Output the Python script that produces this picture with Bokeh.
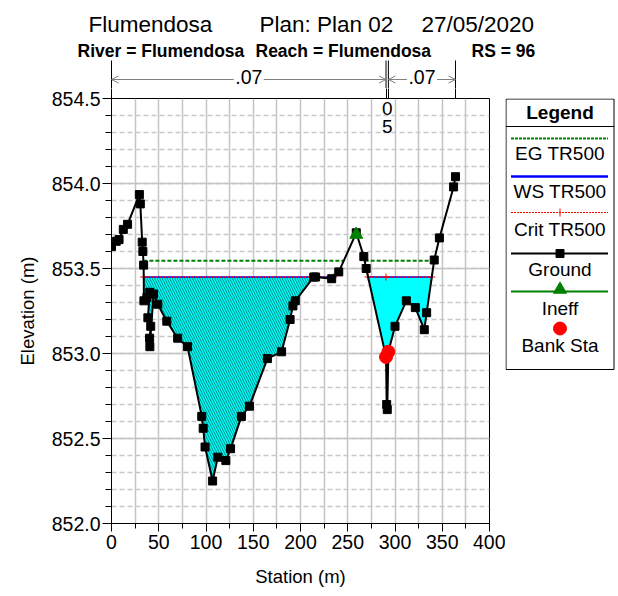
from bokeh.plotting import figure
from bokeh.layouts import column, row
from bokeh.models import (Arrow, OpenHead, SingleIntervalTicker, NumeralTickFormatter, Range1d,
                          LinearAxis, FixedTicker)
from bokeh.core.properties import value
from bokeh.embed import file_html
from bokeh.resources import INLINE

# ---------------- data ----------------
station = [0, 5, 8, 12.5, 17, 29.5, 30.5, 32.5, 33.2, 34.0, 34.3, 37.5, 40.5, 38.5, 41.5, 40.3,
           40.6, 44.5, 49, 58.5, 70, 80.5, 95.5, 97, 99, 107, 112.5, 121, 126, 137.5, 146, 165,
           180, 189, 192, 194.5, 214, 216, 233, 240.5, 259, 267, 269.5, 290.5, 291.2, 291.8,
           293, 300, 312, 321.5, 331, 333.5, 341.5, 347, 362, 364]
elevation = [853.63, 853.66, 853.67, 853.73, 853.76, 853.935, 853.88, 853.655, 853.60, 853.52,
             853.31, 853.33, 853.36, 853.21, 853.16, 853.09, 853.04, 853.35, 853.29, 853.19,
             853.09, 853.04, 852.63, 852.56, 852.45, 852.25, 852.39, 852.37, 852.44, 852.63,
             852.69, 852.97, 853.01, 853.20, 853.28, 853.31, 853.45, 853.45, 853.44, 853.48,
             853.71, 853.57, 853.50, 852.98, 852.70, 852.67, 853.01, 853.16, 853.31, 853.27,
             853.14, 853.24, 853.55, 853.68, 853.98, 854.04]
ws_elev = 853.45      # WS TR500
eg_elev = 853.545     # EG TR500
crit_elev = 853.45    # Crit TR500
ineff_sta = [259.0]
ineff_elev = [853.70]
bank_sta = [290.5, 293.0]
bank_elev = [852.98, 853.01]
n_values = [".07", ".05", ".07"]
legend_names = ["EG TR500", "WS TR500", "Crit TR500", "Ground", "Ineff", "Bank Sta"]
title_parts = ["Flumendosa", "Plan: Plan 02", "27/05/2020"]
subtitle_parts = ["River = Flumendosa", "Reach = Flumendosa", "RS = 96"]

# ---------------- layout constants (pixels) ----------------
W, H = 618, 596
TOP_H = 88                  # height of the title strip
MAIN_W = 505                # width of the main chart canvas
L, R, T, B = 111, 16, 10, 73  # main chart borders
X0, X1 = 0, 400
Y0, Y1 = 852.0, 854.5
FW = MAIN_W - L - R
FH = (H - TOP_H) - T - B
FRAME_TOP = TOP_H + T
FONT = "Liberation Sans"


def px2x(px):
    return X0 + (px - L) * (X1 - X0) / FW


def py2y(py):
    return Y0 + (H - B - py) * (Y1 - Y0) / FH


def wet_polys(sta, elev, level):
    polys, cur = [], None
    for i in range(len(sta)):
        x, y = sta[i], elev[i]
        wet = y <= level
        if i > 0:
            xp, yp = sta[i - 1], elev[i - 1]
            if wet != (yp <= level):
                xc = xp + (x - xp) * (level - yp) / (y - yp)
                if wet:
                    cur = [(xc, level)]
                else:
                    cur.append((xc, level))
                    polys.append(cur)
                    cur = None
        if wet:
            if cur is None:
                cur = []
            cur.append((x, y))
    if cur:
        polys.append(cur)
    return polys


def blank_fig(w, h, xr, yr, top=0, bottom=0):
    f = figure(width=w, height=h, x_range=Range1d(*xr), y_range=Range1d(*yr),
               x_axis_type=None, y_axis_type=None, output_backend="svg",
               toolbar_location=None, min_border=0, min_border_left=0, min_border_right=0,
               min_border_top=top, min_border_bottom=bottom)
    f.outline_line_color = None
    f.background_fill_color = "white"
    f.border_fill_color = "white"
    return f


def txt(f, x, y, s, size, align="left", baseline="middle", style="normal", color="black",
        font=FONT):
    f.text(x=[x], y=[y], text=[s], text_font=value(font), text_font_size=value(size),
           text_font_style=style, text_align=align, text_baseline=baseline, text_color=color)


# ================= main chart =================
p = figure(width=MAIN_W, height=H - TOP_H, x_range=(X0, X1), y_range=(Y0, Y1),
           output_backend="svg", toolbar_location=None,
           min_border_left=L, min_border_right=R, min_border_top=T, min_border_bottom=B)
p.background_fill_color = "white"
p.border_fill_color = "white"
p.outline_line_color = "black"
p.outline_line_width = 1

p.xaxis.ticker = SingleIntervalTicker(interval=50, num_minor_ticks=2)
p.yaxis.ticker = SingleIntervalTicker(interval=0.5, num_minor_ticks=5)
p.yaxis.formatter = NumeralTickFormatter(format="0.0")
for ax in (p.xaxis, p.yaxis):
    ax.axis_line_color = "black"
    ax.major_tick_line_color = "black"
    ax.minor_tick_line_color = "black"
    ax.major_tick_in = 0
    ax.minor_tick_in = 0
    ax.major_label_text_font = FONT
    ax.major_label_text_font_size = "19.5px"
    ax.major_label_text_color = "black"
    ax.axis_label_text_font = FONT
    ax.axis_label_text_font_size = "18.5px"
    ax.axis_label_text_font_style = "normal"
    ax.axis_label_text_color = "black"
p.xaxis.major_tick_out = 8
p.xaxis.minor_tick_out = 5
p.yaxis.major_tick_out = 9
p.yaxis.minor_tick_out = 6
p.xaxis.major_label_standoff = 3
p.yaxis.major_label_standoff = 2
p.xaxis.axis_label = "Station (m)"
p.yaxis.axis_label = "Elevation (m)"
p.xaxis.axis_label_standoff = 14
p.yaxis.axis_label_standoff = 11

p.xgrid.ticker = SingleIntervalTicker(interval=25)
p.xgrid.grid_line_color = "#c4c4c4"
p.xgrid.grid_line_width = 1.5
p.ygrid.grid_line_color = "#c4c4c4"
p.ygrid.grid_line_width = 1.5
p.ygrid.minor_grid_line_color = "#c8c8c8"
p.ygrid.minor_grid_line_width = 1.5
p.ygrid.minor_grid_line_dash = "5 3"

# Manning's n region boundaries: tick marks above the frame
n_bounds = [station[0]] + bank_sta + [station[-1]]
n_axis = LinearAxis(ticker=FixedTicker(ticks=n_bounds), axis_line_color=None,
                    major_tick_out=T, major_tick_in=0, minor_tick_out=0, minor_tick_in=0,
                    major_tick_line_color="black", major_label_standoff=0,
                    major_label_text_font_size="0px",
                    major_label_overrides={v: "" for v in n_bounds})
p.add_layout(n_axis, "above")

# water fill (hatched where the flow is ineffective, left of the ineffective station)
for poly in wet_polys(station, elevation, ws_elev):
    xs = [q[0] for q in poly]
    ys = [q[1] for q in poly]
    if max(xs) < ineff_sta[0]:
        p.patch(xs, ys, fill_color="#00ffff", line_color=None,
                hatch_pattern="\\", hatch_color="#008a80", hatch_scale=5, hatch_weight=1)
    else:
        p.patch(xs, ys, fill_color="#00ffff", line_color=None)

for poly in wet_polys(station, elevation, eg_elev):
    p.line([poly[0][0], poly[-1][0]], [eg_elev, eg_elev], line_color="#008000",
           line_width=2, line_dash="4 2")

crit_marks_x = []
for poly in wet_polys(station, elevation, ws_elev):
    x_a, x_b = poly[0][0], poly[-1][0]
    p.line([x_a, x_b], [ws_elev, ws_elev], line_color="#0000ff", line_width=1.5)
    p.line([x_a, x_b], [crit_elev, crit_elev], line_color="#ff0000", line_width=1.5,
           line_dash="2 2")
    crit_marks_x += [x_a, x_b] + [b for b in bank_sta[:1] if x_a < b < x_b]
p.scatter(crit_marks_x, [crit_elev] * len(crit_marks_x), marker="cross", size=7,
          line_color="#ff0000", line_width=1)

p.line(station, elevation, line_color="black", line_width=2)
p.scatter(station, elevation, marker="square", size=8, color="black")
p.scatter(ineff_sta, ineff_elev, marker="triangle", size=13, color="#008000")
p.scatter(bank_sta, bank_elev, marker="circle", size=13, color="#ff0000")

# ================= title strip (shares the station scale) =================
top = blank_fig(W, TOP_H, (px2x(0), px2x(W)), (TOP_H, 0))
for t, xp in zip(title_parts, [88, 259, 421]):
    txt(top, px2x(xp), 23.5, t, "22.5px", baseline="alphabetic")
for t, xp in zip(subtitle_parts, [77, 255, 471]):
    txt(top, px2x(xp), 50, t, "17.5px", baseline="alphabetic", style="bold")

y_arrow = 79
top.segment(x0=n_bounds, y0=[60] * len(n_bounds), x1=n_bounds, y1=[TOP_H] * len(n_bounds),
            line_color="black", line_width=1)
half_gap = 15 * (X1 - X0) / FW
for i, nv in enumerate(n_values):
    xa, xb = n_bounds[i], n_bounds[i + 1]
    xm = (xa + xb) / 2
    if xb - xa > 3 * half_gap:
        txt(top, xm, 76.5, nv, "19.5px", align="center")
        for xs_, xe_ in ((xm - half_gap, xa), (xm + half_gap, xb)):
            top.add_layout(Arrow(x_start=xs_, y_start=y_arrow, x_end=xe_, y_end=y_arrow,
                                 end=OpenHead(size=7, line_color="#808080", line_width=1),
                                 line_color="#808080", line_width=1))
    else:
        # too narrow: the digits are stacked vertically just under the frame top
        txt(p, xm, py2y(FRAME_TOP + 10), nv[1], "19px", align="center")
        txt(p, xm, py2y(FRAME_TOP + 28), nv[2], "19px", align="center")

# ================= legend strip =================
leg = blank_fig(W - MAIN_W, H - TOP_H, (MAIN_W, W), (H - B, FRAME_TOP), top=T, bottom=B)
LL, LR, LT, LB = MAIN_W + 0.5, 613.5, FRAME_TOP + 0.5, 369
leg.quad(left=[LL], right=[LR], top=[LT], bottom=[LB], fill_color=None,
         line_color="black", line_width=1)
leg.segment(x0=[LL], y0=[126], x1=[LR], y1=[126], line_color="black", line_width=1)
cx = (LL + LR) / 2
txt(leg, cx, 112, "Legend", "19px", align="center", style="bold")
line_y = [138, 176, 212, 253, 291]
text_y = [153, 191, 229, 268.5, 307.5, 345]
styles = [dict(line_color="#008000", line_width=2, line_dash="3 1"),
          dict(line_color="#0000ff", line_width=2.5),
          dict(line_color="#ff0000", line_width=1, line_dash="2 1"),
          dict(line_color="black", line_width=2),
          dict(line_color="#008000", line_width=2)]
for ly, st in zip(line_y, styles):
    leg.line([LL + 5, LR - 6], [ly, ly], **st)
leg.segment(x0=[cx], y0=[line_y[2] - 4], x1=[cx], y1=[line_y[2] + 4], line_color="#ff0000",
            line_width=1)
leg.scatter([cx], [line_y[3]], marker="square", size=8, color="black")
leg.scatter([cx], [line_y[4] - 2], marker="triangle", size=13, color="#008000")
leg.scatter([cx], [328], marker="circle", size=13, color="#ff0000")
for name, ty in zip(legend_names, text_y):
    txt(leg, cx, ty, name, "19px", align="center")

layout = column(top, row(p, leg, spacing=0), spacing=0)
open("out.html", "w").write(file_html(layout, INLINE))
